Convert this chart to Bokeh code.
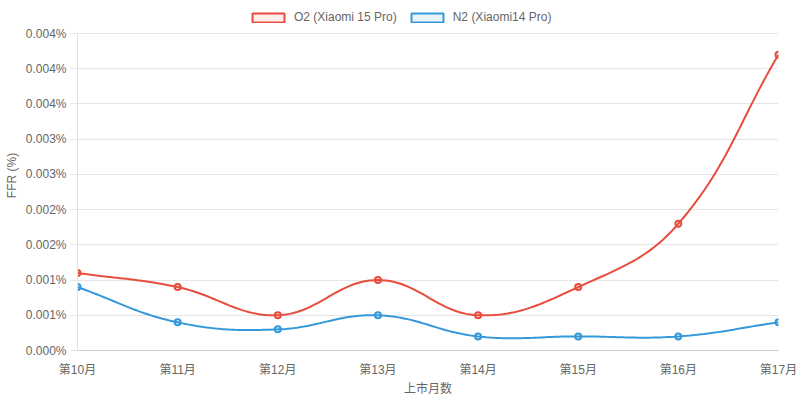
import numpy as np
from bokeh.plotting import figure
from bokeh.models import FixedTicker, Legend, LegendItem, Range1d, ColumnDataSource
from bokeh.embed import file_html
from bokeh.resources import INLINE

# ---- data ----
months = ["第10月", "第11月", "第12月", "第13月", "第14月", "第15月", "第16月", "第17月"]
o2_ffr = [0.0011, 0.0009, 0.0005, 0.0010, 0.0005, 0.0009, 0.0018, 0.0042]
n2_ffr = [0.0009, 0.0004, 0.0003, 0.0005, 0.0002, 0.0002, 0.0002, 0.0004]
o2_name = "O2 (Xiaomi 15 Pro)"
n2_name = "N2 (Xiaomi14 Pro)"
y_ticks = [0.0, 0.0005, 0.001, 0.0015, 0.002, 0.0025, 0.003, 0.0035, 0.004, 0.0045]
y_tick_labels = ["0.000%", "0.001%", "0.001%", "0.002%", "0.002%",
                 "0.003%", "0.003%", "0.004%", "0.004%", "0.004%"]
x_title = "上市月数"
y_title = "FFR (%)"

RED = "#e74c3c"
BLUE = "#3498db"
FONT = "'Liberation Sans', 'Noto Sans CJK SC', sans-serif"
TXT = "#666666"

W, H = 800, 401
ML, MR, MT, MB = 77, 22, 33, 51
FW, FH = W - ML - MR, H - MT - MB      # chart area (inside axes)
FH_ALL = H - MB                          # frame reaches the top edge (room for legend)
YMAX = y_ticks[-1]
YTOP = YMAX * FH_ALL / FH
XMAX = len(months) - 1
SX = FW / XMAX
SY = FH / YMAX


def spline(xs, ys, t=0.4, n=30):
    px = np.array(xs, float) * SX
    py = np.array(ys, float) * SY
    m = len(px)
    prev_c, next_c = [], []
    for i in range(m):
        a = max(i - 1, 0)
        b = min(i + 1, m - 1)
        d01 = np.hypot(px[i] - px[a], py[i] - py[a])
        d12 = np.hypot(px[b] - px[i], py[b] - py[i])
        tot = d01 + d12
        s01 = d01 / tot if tot else 0
        s12 = d12 / tot if tot else 0
        fa, fb = t * s01, t * s12
        dx, dy = px[b] - px[a], py[b] - py[a]
        prev_c.append((px[i] - fa * dx, py[i] - fa * dy))
        next_c.append((px[i] + fb * dx, py[i] + fb * dy))

    def cap(pt):
        return (min(max(pt[0], 0), FW), min(max(pt[1], 0), FH))
    prev_c = [cap(c) for c in prev_c]
    next_c = [cap(c) for c in next_c]
    ox, oy = [], []
    tt = np.linspace(0, 1, n)
    for i in range(m - 1):
        p0 = (px[i], py[i]); p1 = next_c[i]; p2 = prev_c[i + 1]; p3 = (px[i + 1], py[i + 1])
        bx = (1 - tt) ** 3 * p0[0] + 3 * (1 - tt) ** 2 * tt * p1[0] + 3 * (1 - tt) * tt ** 2 * p2[0] + tt ** 3 * p3[0]
        by = (1 - tt) ** 3 * p0[1] + 3 * (1 - tt) ** 2 * tt * p1[1] + 3 * (1 - tt) * tt ** 2 * p2[1] + tt ** 3 * p3[1]
        if i > 0:
            bx, by = bx[1:], by[1:]
        ox.extend(bx / SX)
        oy.extend(by / SY)
    return ox, oy


xs = list(range(len(months)))

p = figure(width=W, height=H, output_backend="svg", toolbar_location=None,
           x_range=Range1d(0, XMAX), y_range=Range1d(0, YTOP),
           min_border_left=ML, min_border_right=MR, min_border_top=0, min_border_bottom=MB)
p.outline_line_color = None
p.background_fill_color = "white"
p.border_fill_color = "white"

# grid
p.xgrid.grid_line_color = None
p.ygrid.grid_line_color = "#e6e6e6"
p.ygrid.ticker = FixedTicker(ticks=y_ticks)

# axes
p.xaxis.ticker = FixedTicker(ticks=xs)
p.xaxis.major_label_overrides = {i: m for i, m in enumerate(months)}
p.yaxis.ticker = FixedTicker(ticks=y_ticks)
p.yaxis.major_label_overrides = {v: l for v, l in zip(y_ticks, y_tick_labels)}
p.yaxis.bounds = (0, YMAX)
for ax in (p.xaxis[0], p.yaxis[0]):
    ax.minor_tick_line_color = None
    ax.major_label_text_font = FONT
    ax.major_label_text_font_size = "12px"
    ax.major_label_text_color = TXT
    ax.axis_label_text_font = FONT
    ax.axis_label_text_font_size = "12px"
    ax.axis_label_text_font_style = "normal"
    ax.axis_label_text_color = TXT
p.xaxis.axis_label = x_title
p.yaxis.axis_label = y_title
p.xaxis.axis_line_color = "#cccccc"
p.xaxis.major_tick_line_color = None
p.xaxis.major_tick_out = 0
p.xaxis.major_tick_in = 0
p.xaxis.major_label_standoff = 12
p.xaxis.axis_label_standoff = 2
p.yaxis.axis_line_color = "#e0e0e0"
p.yaxis.major_tick_line_color = "#e6e6e6"
p.yaxis.major_tick_out = 7
p.yaxis.major_tick_in = 0
p.yaxis.major_label_standoff = 4
p.yaxis.axis_label_standoff = 4

# legend boxes: zero-area quads at the data points (hidden under the markers)
src_o2 = ColumnDataSource(dict(x=xs, y=o2_ffr))
src_n2 = ColumnDataSource(dict(x=xs, y=n2_ffr))
r_o2 = p.quad(left="x", right="x", top="y", bottom="y", source=src_o2,
              fill_color=RED, fill_alpha=0.1, line_color=RED, line_width=2)
r_n2 = p.quad(left="x", right="x", top="y", bottom="y", source=src_n2,
              fill_color=BLUE, fill_alpha=0.1, line_color=BLUE, line_width=2)

# series
ox, oy = spline(xs, o2_ffr)
nx, ny = spline(xs, n2_ffr)
p.line(nx, ny, line_color=BLUE, line_width=2)
p.line(ox, oy, line_color=RED, line_width=2)
p.scatter(xs, n2_ffr, size=6, fill_color=BLUE, fill_alpha=0.1, line_color=BLUE, line_width=2)
p.scatter(xs, o2_ffr, size=6, fill_color=RED, fill_alpha=0.1, line_color=RED, line_width=2)

legend = Legend(items=[LegendItem(label=o2_name, renderers=[r_o2]),
                       LegendItem(label=n2_name, renderers=[r_n2])],
                orientation="horizontal", location=(171, FH_ALL - 24),
                glyph_width=40, glyph_height=11, label_standoff=6, spacing=10,
                padding=0, margin=0, border_line_color=None, background_fill_alpha=0,
                label_text_font=FONT, label_text_font_size="12px", label_text_color=TXT,
                label_height=12)
p.add_layout(legend, "center")

open("out.html", "w").write(file_html(p, INLINE))
